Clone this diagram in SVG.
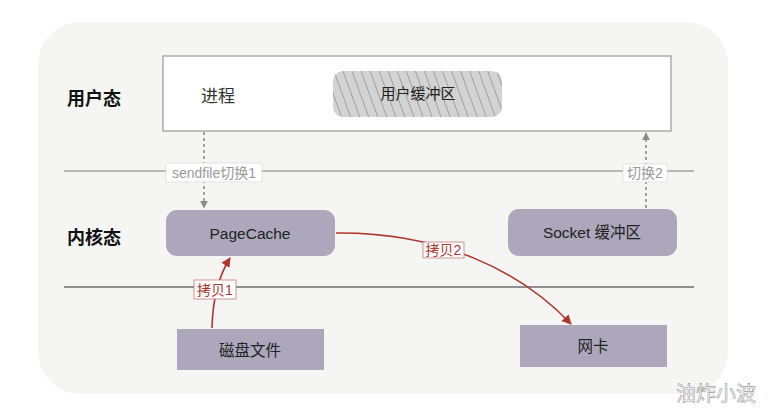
<svg xmlns="http://www.w3.org/2000/svg" width="771" height="413" viewBox="0 0 771 413">
<defs>
<style>
.t{font-family:"Liberation Sans","Noto Sans CJK SC",sans-serif;}
.lane{font-size:18px;font-weight:bold;fill:#111;}
.nodeTxt{font-size:15.5px;fill:#222;text-anchor:middle;}
.node{fill:#ada7bb;}
.dash{stroke:#8d8d8d;stroke-width:1.6;stroke-dasharray:3,3;fill:none;}
.red{stroke:#b0352b;stroke-width:1.6;fill:none;}
.glbl{font-size:14px;fill:#9a9a9a;text-anchor:middle;}
.rlbl{font-size:14px;fill:#b0352b;text-anchor:middle;}
</style>
<pattern id="hatch" width="8.5" height="8.5" patternUnits="userSpaceOnUse" patternTransform="rotate(-20)">
<rect width="8.5" height="8.5" fill="#d3d3d3"/>
<line x1="0.5" y1="0" x2="0.5" y2="8.5" stroke="#8a8a8a" stroke-width="0.7"/>
</pattern>
<marker id="ga" viewBox="0 0 10 10" refX="9" refY="5" markerWidth="5" markerHeight="5" orient="auto"><path d="M0,0L10,5L0,10z" fill="#8d8d8d"/></marker>
<marker id="ra" viewBox="0 0 10 10" refX="9" refY="5" markerWidth="6" markerHeight="6" orient="auto"><path d="M0,0L10,5L0,10z" fill="#b0352b"/></marker>
</defs>
<rect width="771" height="413" fill="#ffffff"/>
<rect x="38" y="22" width="690" height="372" rx="42" fill="#f5f5f4"/>
<g id="lanes">
<line x1="64" y1="171" x2="694" y2="171" stroke="#7a7a7a" stroke-width="1.2"/>
<line x1="64" y1="287" x2="694" y2="287" stroke="#2a2a2a" stroke-width="1.2"/>
<text class="t lane" x="67" y="105">用户态</text>
<text class="t lane" x="67" y="244">内核态</text>
</g>
<g id="user">
<rect x="163" y="56" width="508" height="75" fill="#ffffff" stroke="#999" stroke-width="1.2"/>
<text class="t" x="201" y="102" font-size="17" fill="#333">进程</text>
</g>
<g id="userbuf">
<rect x="333" y="71" width="169" height="46" rx="10" fill="url(#hatch)"/>
<text class="t nodeTxt" x="418" y="99" style="font-size:15px">用户缓冲区</text>
</g>
<g id="pagecache">
<rect class="node" x="166" y="210" width="169" height="46" rx="11"/>
<text class="t nodeTxt" x="250" y="239">PageCache</text>
</g>
<g id="socketbuf">
<rect class="node" x="508" y="209" width="169" height="47" rx="11"/>
<text class="t nodeTxt" x="592" y="238">Socket 缓冲区</text>
</g>
<g id="disk">
<rect class="node" x="177" y="329" width="147" height="41"/>
<text class="t nodeTxt" x="250" y="356">磁盘文件</text>
</g>
<g id="nic">
<rect class="node" x="520" y="325" width="147" height="42"/>
<text class="t nodeTxt" x="593" y="352">网卡</text>
</g>
<g id="connectors">
<path class="dash" d="M204,132 L204,208" marker-end="url(#ga)"/>
<rect x="166" y="163" width="96" height="19" fill="#ffffff" stroke="#ddd" stroke-width="0.8"/>
<text class="t glbl" x="214" y="178">sendfile切换1</text>
<path class="dash" d="M646,208 L646,133" marker-end="url(#ga)"/>
<rect x="623" y="164" width="44" height="18" fill="#ffffff" stroke="#ddd" stroke-width="0.8"/>
<text class="t glbl" x="645" y="178">切换2</text>
<path class="red" d="M212,328 Q213,285 230,258" marker-end="url(#ra)"/>
<rect x="194" y="280" width="42" height="19" fill="#ffffff" stroke="#c97b74" stroke-width="0.8"/>
<text class="t rlbl" x="215" y="295">拷贝1</text>
<path class="red" d="M336,233 C440,232 520,270 571,324" marker-end="url(#ra)"/>
<rect x="423" y="242" width="41" height="16" fill="#ffffff" stroke="#c97b74" stroke-width="0.8"/>
<text class="t rlbl" x="443.5" y="255">拷贝2</text>
</g>
<text class="t" x="676" y="401" font-size="20" fill="#ffffff" stroke="#9a9a9a" stroke-width="0.6">油炸小波</text>
</svg>
